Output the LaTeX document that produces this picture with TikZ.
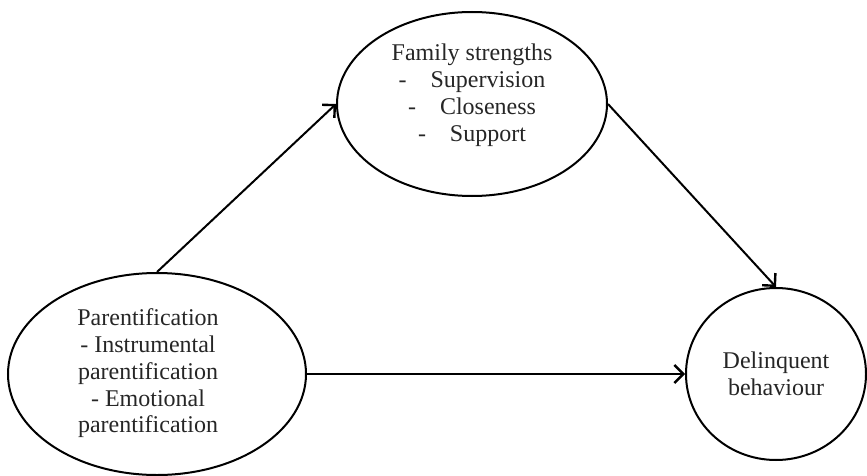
\documentclass[tikz,border=0pt]{standalone}
\usepackage{fontspec}
\setmainfont{Liberation Serif}
\usetikzlibrary{shapes.geometric,arrows.meta}
\begin{document}
\begin{tikzpicture}[x=0.5pt,y=-0.5pt,
  oval/.style={draw, ellipse, inner sep=0pt, line width=1pt, align=center,
    font=\fontsize{12}{13.4}\selectfont, text=black!85},
  link/.style={line width=1pt, -{Straight Barb[length=4.5pt,width=9pt,line width=1.2pt]}}]
\useasboundingbox (0,0) rectangle (867,476);
\node[oval, minimum width=135pt, minimum height=92pt] (fam) at (472,104)
  {Family strengths\\ -\hspace{12pt}Supervision\\ -\hspace{12pt}Closeness\\ -\hspace{12pt}Support\\[-2pt]};
\node[oval, minimum width=149pt, minimum height=101pt] (par) at (157,374)
  {\hspace*{-9pt}\begin{tabular}{@{}c@{}}Parentification\\ - Instrumental\\ parentification\\ - Emotional\\ parentification\end{tabular}};
\node[oval, minimum width=90pt, minimum height=86pt] (del) at (776,374)
  {Delinquent\\ behaviour};
\draw[link] (par.north) -- (fam.west);
\draw[link] (fam.east) -- (del.north);
\draw[link] (par.east) -- (del.west);
\end{tikzpicture}
\end{document}
